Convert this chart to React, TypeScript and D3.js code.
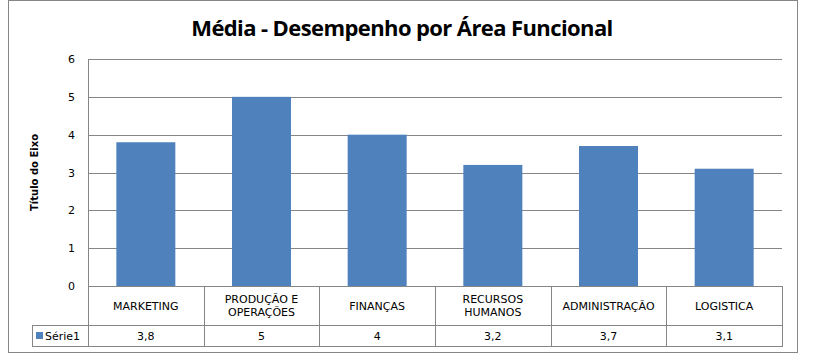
import React from "react";
import * as d3 from "d3";

const categories: string[][] = [
  ["MARKETING"],
  ["PRODUÇÃO E", "OPERAÇÕES"],
  ["FINANÇAS"],
  ["RECURSOS", "HUMANOS"],
  ["ADMINISTRAÇÃO"],
  ["LOGISTICA"],
];
const values: number[] = [3.8, 5, 4, 3.2, 3.7, 3.1];
const valueLabels: string[] = ["3,8", "5", "4", "3,2", "3,7", "3,1"];
const yTicks: number[] = [0, 1, 2, 3, 4, 5, 6];
const seriesName = "Série1";
const title = "Média - Desempenho por Área Funcional";
const axisTitle = "Título do Eixo";

export default function App() {
  const W = 816, H = 357;
  const left = 88, right = 782, top = 59, zero = 286;
  const rowDiv = 325, tableBottom = 346;
  const x = d3.scaleBand<number>().domain(d3.range(categories.length)).range([left, right]).paddingInner(0).paddingOuter(0);
  const y = d3.scaleLinear().domain([0, 6]).range([zero, top]);
  const bw = x.bandwidth();
  const barW = bw * 0.51;
  const grid = "#868686";
  const font = "Tahoma, 'DejaVu Sans', sans-serif";
  return (
    <svg width={W} height={H} style={{ position: "absolute", left: 0, top: 0, background: "#fff" }}>
      <rect x={8.5} y={0.5} width={789} height={352} fill="#fff" stroke="#868686" strokeWidth={1} />
      <text x={402} y={36} textAnchor="middle" fontFamily="'Open Sans', sans-serif" fontWeight="bold" fontSize={22} fill="#000" style={{ letterSpacing: "-0.6px" }}>
        {title}
      </text>
      {yTicks.map((t) => (
        <g key={t}>
          {t > 0 && <line x1={left} x2={right} y1={Math.round(y(t)) + 0.5} y2={Math.round(y(t)) + 0.5} stroke={grid} strokeWidth={1} />}
          <text x={75} y={y(t) + 4} textAnchor="end" fontFamily={font} fontSize={11} fill="#000">{t}</text>
        </g>
      ))}
      <text transform={`translate(38,${(top + zero) / 2}) rotate(-90)`} textAnchor="middle" fontFamily={font} fontWeight="bold" fontSize={10} fill="#000">
        {axisTitle}
      </text>
      {values.map((v, i) => (
        <rect key={i} x={x(i)! + (bw - barW) / 2} y={y(v)} width={barW} height={zero - y(v)} fill="#4F81BD" />
      ))}
      {/* table */}
      <line x1={left} x2={right} y1={zero + 0.5} y2={zero + 0.5} stroke={grid} />
      <line x1={32} x2={right} y1={rowDiv + 0.5} y2={rowDiv + 0.5} stroke={grid} />
      <line x1={32} x2={right} y1={tableBottom + 0.5} y2={tableBottom + 0.5} stroke={grid} />
      <line x1={32.5} x2={32.5} y1={rowDiv} y2={tableBottom + 1} stroke={grid} />
      <line x1={left + 0.5} x2={left + 0.5} y1={top} y2={tableBottom + 1} stroke={grid} />
      {categories.map((_, i) => (
        <line key={i} x1={Math.round(x(i)! + bw) + 0.5} x2={Math.round(x(i)! + bw) + 0.5} y1={zero} y2={tableBottom + 1} stroke={grid} />
      ))}
      {categories.map((lines, i) => {
        const cx = x(i)! + bw / 2;
        const cy = (zero + rowDiv) / 2;
        return (
          <text key={i} textAnchor="middle" fontFamily={font} fontSize={11} fill="#000">
            {lines.map((l, j) => (
              <tspan key={j} x={cx} y={cy + 4 + (j - (lines.length - 1) / 2) * 13}>{l}</tspan>
            ))}
          </text>
        );
      })}
      {valueLabels.map((l, i) => (
        <text key={i} x={x(i)! + bw / 2} y={(rowDiv + tableBottom) / 2 + 4} textAnchor="middle" fontFamily={font} fontSize={11} fill="#000">{l}</text>
      ))}
      <rect x={36} y={332} width={7} height={7} fill="#4F81BD" />
      <text x={45} y={(rowDiv + tableBottom) / 2 + 4} fontFamily={font} fontSize={11} fill="#000">{seriesName}</text>
    </svg>
  );
}
